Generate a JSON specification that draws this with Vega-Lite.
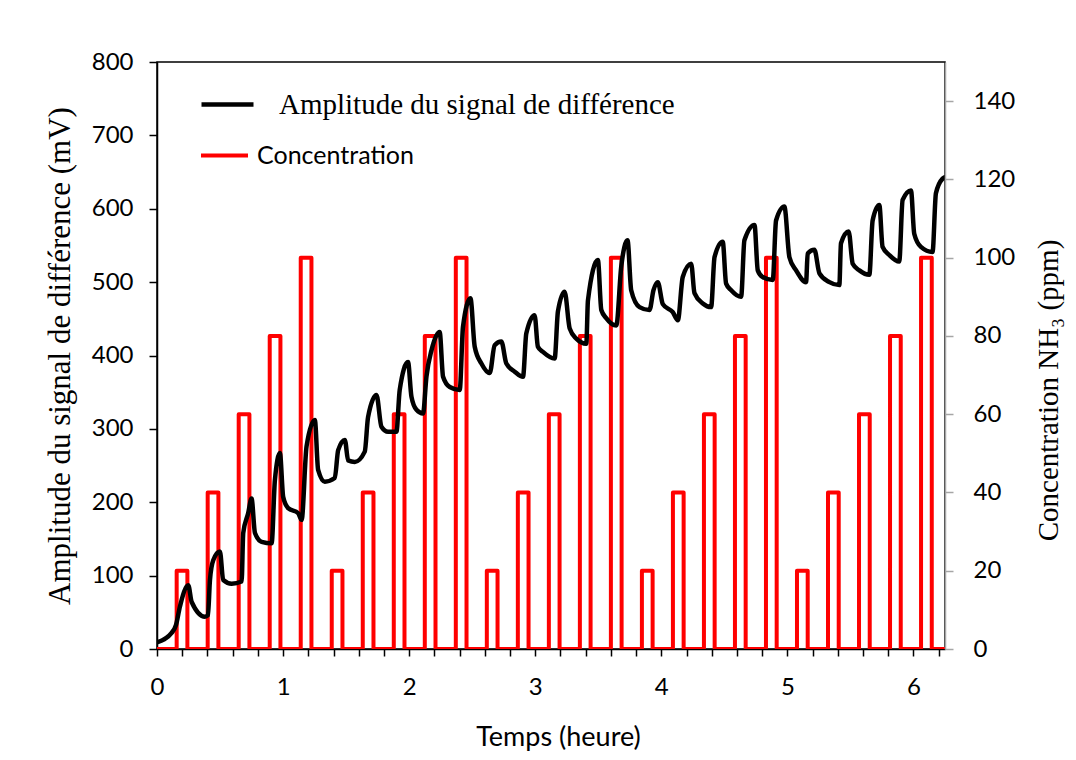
{
  "$schema": "https://vega.github.io/schema/vega-lite/v6.json",
  "width": 788,
  "height": 587,
  "autosize": "none",
  "padding": {"left": 157, "top": 62, "right": 131, "bottom": 111},
  "background": "white",
  "config": {"view": {"stroke": "black", "strokeWidth": 1.5}, "axis": {"grid": false}},
  "datasets": {
    "conc": [
      {"k": 0, "t": 0, "c": 0},
      {"k": 1, "t": 0.156, "c": 0}, {"k": 2, "t": 0.156, "c": 20}, {"k": 3, "t": 0.241, "c": 20}, {"k": 4, "t": 0.241, "c": 0},
      {"k": 5, "t": 0.402, "c": 0}, {"k": 6, "t": 0.402, "c": 40}, {"k": 7, "t": 0.487, "c": 40}, {"k": 8, "t": 0.487, "c": 0},
      {"k": 9, "t": 0.648, "c": 0}, {"k": 10, "t": 0.648, "c": 60}, {"k": 11, "t": 0.733, "c": 60}, {"k": 12, "t": 0.733, "c": 0},
      {"k": 13, "t": 0.894, "c": 0}, {"k": 14, "t": 0.894, "c": 80}, {"k": 15, "t": 0.979, "c": 80}, {"k": 16, "t": 0.979, "c": 0},
      {"k": 17, "t": 1.140, "c": 0}, {"k": 18, "t": 1.140, "c": 100}, {"k": 19, "t": 1.225, "c": 100}, {"k": 20, "t": 1.225, "c": 0},
      {"k": 21, "t": 1.386, "c": 0}, {"k": 22, "t": 1.386, "c": 20}, {"k": 23, "t": 1.471, "c": 20}, {"k": 24, "t": 1.471, "c": 0},
      {"k": 25, "t": 1.632, "c": 0}, {"k": 26, "t": 1.632, "c": 40}, {"k": 27, "t": 1.717, "c": 40}, {"k": 28, "t": 1.717, "c": 0},
      {"k": 29, "t": 1.878, "c": 0}, {"k": 30, "t": 1.878, "c": 60}, {"k": 31, "t": 1.963, "c": 60}, {"k": 32, "t": 1.963, "c": 0},
      {"k": 33, "t": 2.124, "c": 0}, {"k": 34, "t": 2.124, "c": 80}, {"k": 35, "t": 2.209, "c": 80}, {"k": 36, "t": 2.209, "c": 0},
      {"k": 37, "t": 2.370, "c": 0}, {"k": 38, "t": 2.370, "c": 100}, {"k": 39, "t": 2.455, "c": 100}, {"k": 40, "t": 2.455, "c": 0},
      {"k": 41, "t": 2.616, "c": 0}, {"k": 42, "t": 2.616, "c": 20}, {"k": 43, "t": 2.701, "c": 20}, {"k": 44, "t": 2.701, "c": 0},
      {"k": 45, "t": 2.862, "c": 0}, {"k": 46, "t": 2.862, "c": 40}, {"k": 47, "t": 2.947, "c": 40}, {"k": 48, "t": 2.947, "c": 0},
      {"k": 49, "t": 3.108, "c": 0}, {"k": 50, "t": 3.108, "c": 60}, {"k": 51, "t": 3.193, "c": 60}, {"k": 52, "t": 3.193, "c": 0},
      {"k": 53, "t": 3.354, "c": 0}, {"k": 54, "t": 3.354, "c": 80}, {"k": 55, "t": 3.439, "c": 80}, {"k": 56, "t": 3.439, "c": 0},
      {"k": 57, "t": 3.600, "c": 0}, {"k": 58, "t": 3.600, "c": 100}, {"k": 59, "t": 3.685, "c": 100}, {"k": 60, "t": 3.685, "c": 0},
      {"k": 61, "t": 3.846, "c": 0}, {"k": 62, "t": 3.846, "c": 20}, {"k": 63, "t": 3.931, "c": 20}, {"k": 64, "t": 3.931, "c": 0},
      {"k": 65, "t": 4.092, "c": 0}, {"k": 66, "t": 4.092, "c": 40}, {"k": 67, "t": 4.177, "c": 40}, {"k": 68, "t": 4.177, "c": 0},
      {"k": 69, "t": 4.338, "c": 0}, {"k": 70, "t": 4.338, "c": 60}, {"k": 71, "t": 4.423, "c": 60}, {"k": 72, "t": 4.423, "c": 0},
      {"k": 73, "t": 4.584, "c": 0}, {"k": 74, "t": 4.584, "c": 80}, {"k": 75, "t": 4.669, "c": 80}, {"k": 76, "t": 4.669, "c": 0},
      {"k": 77, "t": 4.830, "c": 0}, {"k": 78, "t": 4.830, "c": 100}, {"k": 79, "t": 4.915, "c": 100}, {"k": 80, "t": 4.915, "c": 0},
      {"k": 81, "t": 5.076, "c": 0}, {"k": 82, "t": 5.076, "c": 20}, {"k": 83, "t": 5.161, "c": 20}, {"k": 84, "t": 5.161, "c": 0},
      {"k": 85, "t": 5.322, "c": 0}, {"k": 86, "t": 5.322, "c": 40}, {"k": 87, "t": 5.407, "c": 40}, {"k": 88, "t": 5.407, "c": 0},
      {"k": 89, "t": 5.568, "c": 0}, {"k": 90, "t": 5.568, "c": 60}, {"k": 91, "t": 5.653, "c": 60}, {"k": 92, "t": 5.653, "c": 0},
      {"k": 93, "t": 5.814, "c": 0}, {"k": 94, "t": 5.814, "c": 80}, {"k": 95, "t": 5.899, "c": 80}, {"k": 96, "t": 5.899, "c": 0},
      {"k": 97, "t": 6.060, "c": 0}, {"k": 98, "t": 6.060, "c": 100}, {"k": 99, "t": 6.145, "c": 100}, {"k": 100, "t": 6.145, "c": 0},
      {"k": 101, "t": 6.25, "c": 0}
    ],
    "signal": [
      {"t": 0.0, "v": 9}, {"t": 0.116, "v": 22}, {"t": 0.151, "v": 33}, {"t": 0.182, "v": 58}, {"t": 0.248, "v": 87},
      {"t": 0.275, "v": 64}, {"t": 0.380, "v": 44}, {"t": 0.404, "v": 46}, {"t": 0.420, "v": 94}, {"t": 0.446, "v": 121},
      {"t": 0.499, "v": 133}, {"t": 0.525, "v": 94}, {"t": 0.592, "v": 89}, {"t": 0.671, "v": 92}, {"t": 0.684, "v": 158},
      {"t": 0.723, "v": 185}, {"t": 0.750, "v": 205}, {"t": 0.777, "v": 158}, {"t": 0.830, "v": 146}, {"t": 0.909, "v": 144},
      {"t": 0.935, "v": 230}, {"t": 0.975, "v": 267}, {"t": 1.001, "v": 207}, {"t": 1.040, "v": 192}, {"t": 1.120, "v": 185},
      {"t": 1.147, "v": 176}, {"t": 1.186, "v": 276}, {"t": 1.252, "v": 312}, {"t": 1.278, "v": 244}, {"t": 1.331, "v": 228},
      {"t": 1.410, "v": 233}, {"t": 1.437, "v": 271}, {"t": 1.490, "v": 285}, {"t": 1.516, "v": 257}, {"t": 1.569, "v": 255},
      {"t": 1.648, "v": 269}, {"t": 1.674, "v": 316}, {"t": 1.741, "v": 346}, {"t": 1.780, "v": 303}, {"t": 1.833, "v": 296},
      {"t": 1.899, "v": 296}, {"t": 1.925, "v": 353}, {"t": 1.991, "v": 391}, {"t": 2.018, "v": 344}, {"t": 2.058, "v": 326},
      {"t": 2.110, "v": 321}, {"t": 2.137, "v": 371}, {"t": 2.177, "v": 407}, {"t": 2.242, "v": 432}, {"t": 2.269, "v": 371},
      {"t": 2.322, "v": 357}, {"t": 2.401, "v": 353}, {"t": 2.427, "v": 439}, {"t": 2.486, "v": 478}, {"t": 2.520, "v": 412},
      {"t": 2.573, "v": 389}, {"t": 2.639, "v": 376}, {"t": 2.678, "v": 414}, {"t": 2.731, "v": 419}, {"t": 2.771, "v": 389},
      {"t": 2.837, "v": 378}, {"t": 2.903, "v": 371}, {"t": 2.929, "v": 430}, {"t": 2.995, "v": 455}, {"t": 3.021, "v": 412},
      {"t": 3.061, "v": 405}, {"t": 3.154, "v": 396}, {"t": 3.180, "v": 460}, {"t": 3.233, "v": 487}, {"t": 3.273, "v": 437},
      {"t": 3.326, "v": 423}, {"t": 3.405, "v": 416}, {"t": 3.418, "v": 475}, {"t": 3.497, "v": 530}, {"t": 3.524, "v": 462},
      {"t": 3.563, "v": 451}, {"t": 3.643, "v": 441}, {"t": 3.682, "v": 521}, {"t": 3.732, "v": 557}, {"t": 3.761, "v": 489},
      {"t": 3.827, "v": 466}, {"t": 3.906, "v": 462}, {"t": 3.938, "v": 489}, {"t": 3.972, "v": 500}, {"t": 4.012, "v": 470},
      {"t": 4.091, "v": 459}, {"t": 4.131, "v": 448}, {"t": 4.170, "v": 507}, {"t": 4.237, "v": 525}, {"t": 4.263, "v": 485},
      {"t": 4.329, "v": 471}, {"t": 4.395, "v": 466}, {"t": 4.422, "v": 534}, {"t": 4.487, "v": 555}, {"t": 4.514, "v": 498},
      {"t": 4.554, "v": 489}, {"t": 4.633, "v": 480}, {"t": 4.659, "v": 557}, {"t": 4.739, "v": 578}, {"t": 4.765, "v": 516},
      {"t": 4.804, "v": 507}, {"t": 4.884, "v": 503}, {"t": 4.910, "v": 584}, {"t": 4.976, "v": 603}, {"t": 5.016, "v": 534},
      {"t": 5.069, "v": 516}, {"t": 5.148, "v": 500}, {"t": 5.161, "v": 539}, {"t": 5.214, "v": 544}, {"t": 5.254, "v": 512},
      {"t": 5.333, "v": 500}, {"t": 5.412, "v": 496}, {"t": 5.425, "v": 553}, {"t": 5.486, "v": 569}, {"t": 5.518, "v": 525},
      {"t": 5.571, "v": 516}, {"t": 5.650, "v": 510}, {"t": 5.676, "v": 584}, {"t": 5.729, "v": 605}, {"t": 5.755, "v": 548},
      {"t": 5.808, "v": 537}, {"t": 5.887, "v": 528}, {"t": 5.914, "v": 612}, {"t": 5.980, "v": 625}, {"t": 6.006, "v": 566},
      {"t": 6.059, "v": 548}, {"t": 6.151, "v": 541}, {"t": 6.178, "v": 621}, {"t": 6.231, "v": 641}, {"t": 6.25, "v": 643}
    ]
  },
  "layer": [
    {
      "data": {"name": "conc"},
      "mark": {"type": "line", "strokeWidth": 4, "strokeJoin": "round", "clip": true},
      "encoding": {
        "x": {
          "field": "t", "type": "quantitative",
          "scale": {"domain": [0, 6.25], "nice": false, "zero": false},
          "axis": {
            "orient": "bottom",
            "values": [0, 0.2, 0.4, 0.6, 0.8, 1, 1.2, 1.4, 1.6, 1.8, 2, 2.2, 2.4, 2.6, 2.8, 3, 3.2, 3.4, 3.6, 3.8, 4, 4.2, 4.4, 4.6, 4.8, 5, 5.2, 5.4, 5.6, 5.8, 6, 6.2],
            "tickCount": 100,
            "labelExpr": "abs(datum.value - round(datum.value)) < 0.001 ? format(round(datum.value), 'd') : ''",
            "labelOverlap": false,
            "labelFlush": false,
            "tickSize": 7,
            "tickColor": "black", "tickWidth": 1.5,
            "domainColor": "black", "domainWidth": 1.5,
            "labelFont": "Lato", "labelFontSize": 24, "labelColor": "black", "labelPadding": 19,
            "title": "Temps (heure)", "titleFont": "Lato", "titleFontSize": 27, "titleFontWeight": "normal", "titleColor": "black", "titlePadding": 25,
            "titleX": 401
          }
        },
        "y": {
          "field": "c", "type": "quantitative",
          "scale": {"domain": [0, 150], "nice": false},
          "axis": {
            "orient": "right",
            "values": [0, 20, 40, 60, 80, 100, 120, 140],
            "tickSize": 8, "tickColor": "#a6a6a6", "tickWidth": 1.5,
            "domainColor": "#a6a6a6", "domainWidth": 1.5,
            "labelFont": "Lato", "labelFontSize": 24, "labelColor": "black", "labelPadding": 20,
            "title": "Concentration NH₃ (ppm)", "titleFont": "Liberation Serif", "titleFontSize": 29, "titleFontWeight": "normal", "titleColor": "black",
            "titleAngle": 270, "titleBaseline": "top", "titlePadding": 20, "titleY": 328,
            "zindex": 1
          }
        },
        "order": {"field": "k"},
        "stroke": {
          "datum": "Concentration",
          "scale": {"range": ["#ff0000"]},
          "legend": {
            "orient": "none", "legendX": 42, "legendY": 68, "title": null, "padding": 0,
            "symbolType": "stroke", "symbolSize": 2209, "symbolStrokeWidth": 4,
            "labelFont": "Lato", "labelFontSize": 25, "labelColor": "black", "labelOffset": 7, "labelLimit": 0
          }
        }
      }
    },
    {
      "data": {"name": "signal"},
      "mark": {"type": "line", "strokeWidth": 4.5, "strokeJoin": "round", "strokeCap": "round", "interpolate": "monotone", "clip": true},
      "encoding": {
        "x": {"field": "t", "type": "quantitative"},
        "y": {
          "field": "v", "type": "quantitative",
          "scale": {"domain": [0, 800], "nice": false},
          "axis": {
            "orient": "left",
            "values": [0, 100, 200, 300, 400, 500, 600, 700, 800],
            "tickSize": 8, "tickColor": "black", "tickWidth": 1.5,
            "domainColor": "black", "domainWidth": 1.5,
            "labelFont": "Lato", "labelFontSize": 24, "labelColor": "black", "labelPadding": 16,
            "title": "Amplitude  du signal de différence (mV)", "titleFont": "Liberation Serif", "titleFontSize": 31, "titleFontWeight": "normal", "titleColor": "black", "titlePadding": 15
          }
        },
        "stroke": {
          "datum": "Amplitude du signal de différence",
          "scale": {"range": ["black"]},
          "legend": {
            "orient": "none", "legendX": 42, "legendY": 14, "title": null, "padding": 0,
            "symbolType": "stroke", "symbolSize": 2704, "symbolStrokeWidth": 4.5,
            "labelFont": "Liberation Serif", "labelFontSize": 29, "labelColor": "black", "labelOffset": 23, "labelLimit": 0
          }
        }
      }
    }
  ],
  "resolve": {"scale": {"y": "independent", "stroke": "independent"}}
}
